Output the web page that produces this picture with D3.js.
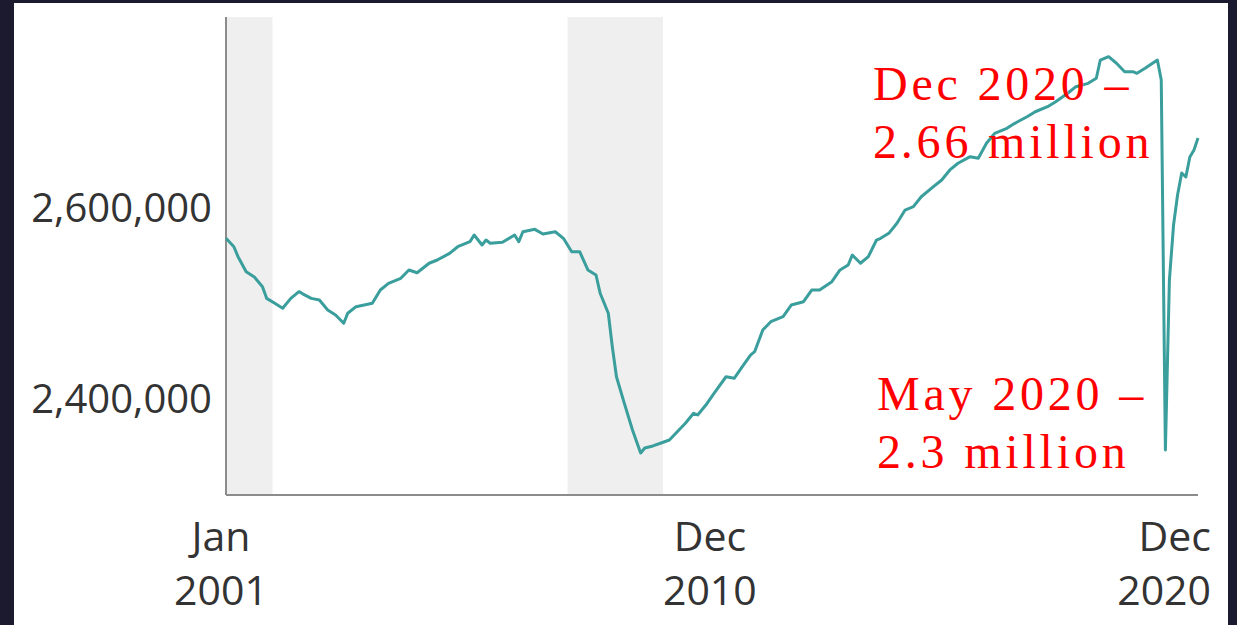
<!DOCTYPE html>
<html>
<head>
<meta charset="utf-8">
<script src="https://cdn.jsdelivr.net/npm/d3@7"></script>
<style>
  html, body { margin: 0; padding: 0; background: #1b1a2f; }
  svg { display: block; }
</style>
</head>
<body>
<svg id="chart"></svg>
<script>
// monthly readings, Jan 2001 - Dec 2020
const months = [
  "2001-01","2001-03","2001-04","2001-06","2001-08","2001-10","2001-11",
  "2002-01","2002-03","2002-05","2002-07","2002-08","2002-10","2002-12",
  "2003-02","2003-04","2003-06","2003-07","2003-09","2003-11",
  "2004-01","2004-03","2004-05","2004-08","2004-10","2004-12",
  "2005-03","2005-05","2005-08","2005-10",
  "2006-01","2006-02","2006-04","2006-05","2006-06","2006-09","2006-12",
  "2007-01","2007-02","2007-05","2007-07","2007-10","2007-12",
  "2008-02","2008-04","2008-06","2008-08","2008-09","2008-11","2008-12",
  "2009-01","2009-03","2009-05","2009-07","2009-08","2009-10","2009-12",
  "2010-02","2010-04","2010-06","2010-08","2010-09","2010-11",
  "2011-01","2011-04","2011-06","2011-08","2011-10","2011-11",
  "2012-01","2012-03","2012-06","2012-08","2012-11",
  "2013-01","2013-03","2013-06","2013-08","2013-10","2013-11",
  "2014-01","2014-03","2014-05","2014-06","2014-08","2014-10","2014-12",
  "2015-02","2015-04","2015-07","2015-09","2015-11",
  "2016-01","2016-04","2016-06","2016-08","2016-10",
  "2017-01","2017-03","2017-06","2017-08","2017-11",
  "2018-01","2018-04","2018-06","2018-09","2018-11","2018-12",
  "2019-02","2019-04","2019-06","2019-08","2019-09","2019-11",
  "2020-02","2020-03","2020-04","2020-05","2020-06","2020-07","2020-08",
  "2020-09","2020-10","2020-11","2020-12"
];
const employment = [
  2568500,2559700,2549300,2533600,2528000,2517900,2505700,
  2500500,2495300,2505700,2512700,2510200,2505700,2504000,
  2493500,2488300,2479600,2490100,2497000,2498700,
  2500500,2514400,2521400,2526700,2535400,2532500,
  2542400,2545800,2552800,2559700,
  2565000,2572000,2561500,2566700,2563300,2564300,2572000,
  2565000,2575400,2577900,2573000,2575400,2568500,
  2554500,2554500,2535400,2530100,2511000,2490100,2455100,
  2423700,2395900,2368000,2343900,2349200,2351300,2354400,
  2357500,2366200,2375000,2385500,2383700,2394100,
  2406400,2423700,2422100,2434200,2446400,2449900,
  2472600,2481300,2486500,2498700,2502200,
  2514400,2514400,2523100,2535400,2540600,2551000,
  2542400,2549300,2566700,2568500,2573700,2584200,2598100,
  2601600,2612000,2622500,2629500,2640000,
  2647000,2653900,2652200,2667900,2678300,
  2683600,2688800,2695700,2700900,2706200,
  2711400,2720200,2727100,2730600,2735900,2755000,
  2758500,2751600,2742800,2742800,2741100,2746300,
  2755000,2734100,2347100,2524900,2582400,2613800,2636800,
  2632600,2653500,2660900,2673400
];

const recessionStart = ["2001-01-01", "2008-01-01"];
const recessionEnd = ["2001-12-15", "2009-12-15"];

const yTicks = [2400000, 2600000];
const xTickDates = ["2001-01", "2010-12", "2020-12"];
const xTickMonth = ["Jan", "Dec", "Dec"];
const xTickYear = ["2001", "2010", "2020"];

const notes = [
  {lines: ["Dec 2020 \u2013", "2.66 million"], x: 873, y: 100},
  {lines: ["May 2020 \u2013", "2.3 million"], x: 877, y: 410}
];

const width = 1237, height = 625;
const margin = {top: 17, right: 39, bottom: 130, left: 226};

const parseMonth = d3.timeParse("%Y-%m");
const parseDay = d3.timeParse("%Y-%m-%d");
const data = months.map((m, i) => ({date: parseMonth(m), value: employment[i]}));

const svg = d3.select("#chart")
    .attr("width", width)
    .attr("height", height);

// white panel inside the dark frame
svg.append("rect")
    .attr("x", 14).attr("y", 3)
    .attr("width", 1214).attr("height", height - 3)
    .attr("fill", "#ffffff");

const x = d3.scaleTime()
    .domain([parseMonth("2001-01"), parseMonth("2020-12")])
    .range([margin.left, width - margin.right]);

const y = d3.scaleLinear()
    .domain([2300000, 2800000])
    .range([height - margin.bottom, margin.top]);

// recession shading
svg.append("g")
    .selectAll("rect")
    .data(recessionStart)
    .join("rect")
    .attr("x", (d) => x(parseDay(d)))
    .attr("y", margin.top)
    .attr("width", (d, i) => x(parseDay(recessionEnd[i])) - x(parseDay(d)))
    .attr("height", height - margin.bottom - margin.top)
    .attr("fill", "#efefef");

// y axis
const yAxis = svg.append("g")
    .attr("transform", `translate(${margin.left},0)`)
    .call(d3.axisLeft(y).tickValues(yTicks).tickSize(0).tickPadding(14)
        .tickFormat(d3.format(",")));
yAxis.select(".domain").remove();
yAxis.selectAll("text")
    .attr("font-family", "'Open Sans', sans-serif")
    .attr("font-size", 40)
    .attr("fill", "#333");

// x labels
const xt = svg.append("g")
    .selectAll("text")
    .data(xTickDates)
    .join("text")
    .attr("font-family", "'Open Sans', sans-serif")
    .attr("font-size", 41)
    .attr("fill", "#333")
    .attr("text-anchor", (d, i) => i === xTickDates.length - 1 ? "end" : "middle");
const labelX = (d, i) => {
    const px = x(parseMonth(d));
    if (i === 0) return px - 5;
    if (i === xTickDates.length - 1) return px + 13;
    return px;
};
xt.append("tspan").attr("x", labelX).attr("y", 551).text((d, i) => xTickMonth[i]);
xt.append("tspan").attr("x", labelX).attr("y", 605).text((d, i) => xTickYear[i]);

// axis lines
const axisColor = "#8c8c8c";
svg.append("line")
    .attr("x1", margin.left).attr("x2", margin.left)
    .attr("y1", margin.top).attr("y2", height - margin.bottom)
    .attr("stroke", axisColor).attr("stroke-width", 2);
svg.append("line")
    .attr("x1", margin.left).attr("x2", width - margin.right)
    .attr("y1", height - margin.bottom).attr("y2", height - margin.bottom)
    .attr("stroke", axisColor).attr("stroke-width", 2);

// the series
const line = d3.line()
    .x((d) => x(d.date))
    .y((d) => y(d.value))
    .curve(d3.curveLinear);

svg.append("path")
    .datum(data)
    .attr("d", line)
    .attr("fill", "none")
    .attr("stroke", "#3a9e9c")
    .attr("stroke-width", 3)
    .attr("stroke-linejoin", "round");

// red notes
notes.forEach((n) => {
    const t = svg.append("text")
        .attr("font-family", "'Liberation Serif', 'Times New Roman', serif")
        .attr("font-size", 48)
        .attr("letter-spacing", 3.8)
        .attr("fill", "#ff0000");
    n.lines.forEach((l, i) => {
        t.append("tspan").attr("x", n.x).attr("y", n.y + i * 58).text(l);
    });
});
</script>
</body>
</html>
